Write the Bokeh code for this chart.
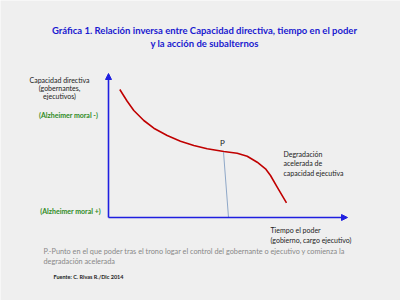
from bokeh.plotting import figure
from bokeh.models import Range1d, Arrow, NormalHead
from bokeh.core.properties import value
from bokeh.embed import file_html
from bokeh.resources import INLINE

# Curve: capacidad directiva vs tiempo en el poder (canvas coordinates, y grows downward)
curve_x = [119.3, 126.7, 133.3, 143.3, 153.3, 166.7, 180.0, 193.3, 206.7, 223.3,
           236.7, 246.7, 256.7, 265.0, 270.0, 276.7, 286.0]
curve_y = [89.0, 100.7, 110.0, 120.0, 127.7, 135.0, 140.7, 145.0, 148.3, 151.0,
           152.7, 155.7, 161.7, 168.3, 175.0, 186.7, 202.3]

# Point P and its projection on the time axis
p_x = [223, 228]
p_y = [151.5, 217]

# Axes (origin, ends)
axis_origin = (108, 217)
axis_y_top = 73
axis_x_end = 347

title_lines = ["Gráfica 1. Relación inversa entre Capacidad directiva, tiempo en el poder",
               "y la acción de subalternos"]
ylabel_lines = ["Capacidad directiva", "(gobernantes,", "ejecutivos)"]
xlabel_lines = ["Tiempo el poder", "(gobierno, cargo ejecutivo)"]
degr_lines = ["Degradación", "acelerada de", "capacidad ejecutiva"]
note_lines = ["P.-Punto en el que poder tras el trono logar el control del gobernante o ejecutivo y comienza la",
              "degradación acelerada"]
source_text = "Fuente: C. Rivas R./Dic 2014"
alz_top = "(Alzheimer moral -)"
alz_bottom = "(Alzheimer moral +)"

FONT = "Lato"

p = figure(width=400, height=300, x_range=Range1d(0, 400), y_range=Range1d(300, 0),
           output_backend="svg", toolbar_location=None, min_border=0)
p.axis.visible = False
p.grid.visible = False
p.outline_line_color = None
p.background_fill_color = "#efefef"
p.border_fill_color = "#efefef"

# axes arrows
ox, oy = axis_origin
blue = "#1f1fe0"
p.add_layout(Arrow(end=NormalHead(size=6, line_color=blue, fill_color=blue, line_width=1),
                   x_start=ox, y_start=oy, x_end=ox, y_end=axis_y_top,
                   line_color=blue, line_width=1.6))
p.add_layout(Arrow(end=NormalHead(size=6, line_color=blue, fill_color=blue, line_width=1),
                   x_start=ox, y_start=oy, x_end=axis_x_end, y_end=oy,
                   line_color=blue, line_width=1.6))

# curve
p.line(curve_x, curve_y, line_color="#c00000", line_width=1.6, line_join="round")
p.line(p_x, p_y, line_color="#8fa8c8", line_width=1)

def txt(x, y, lines, color, size, style="normal", align="left", dy=9):
    xs = [x] * len(lines)
    ys = [y + i * dy for i in range(len(lines))]
    p.text(xs, ys, text=lines, text_color=color, text_font=value(FONT),
           text_font_size=size, text_font_style=style, text_align=align,
           text_baseline="middle")

txt(204, 30, title_lines, "#1a1ad0", "9.5px", "bold", "center", dy=12.5)
txt(59, 79, ylabel_lines, "#222222", "7px", "normal", "center", dy=8)
txt(68, 114, [alz_top], "#2e8b1e", "7px", "bold", "center")
txt(70, 210, [alz_bottom], "#2e8b1e", "7px", "bold", "center")
txt(222, 142.5, ["P"], "#222222", "8px", "normal", "center")
txt(283, 153, degr_lines, "#222222", "7px", "normal", "left", dy=9.5)
txt(270, 229, xlabel_lines, "#222222", "7px", "normal", "left", dy=10)
txt(43, 251, note_lines, "#888888", "7.3px", "normal", "left", dy=9.5)
txt(53, 276, [source_text], "#222222", "5.5px", "bold", "left")

open("out.html", "w").write(file_html(p, INLINE))
